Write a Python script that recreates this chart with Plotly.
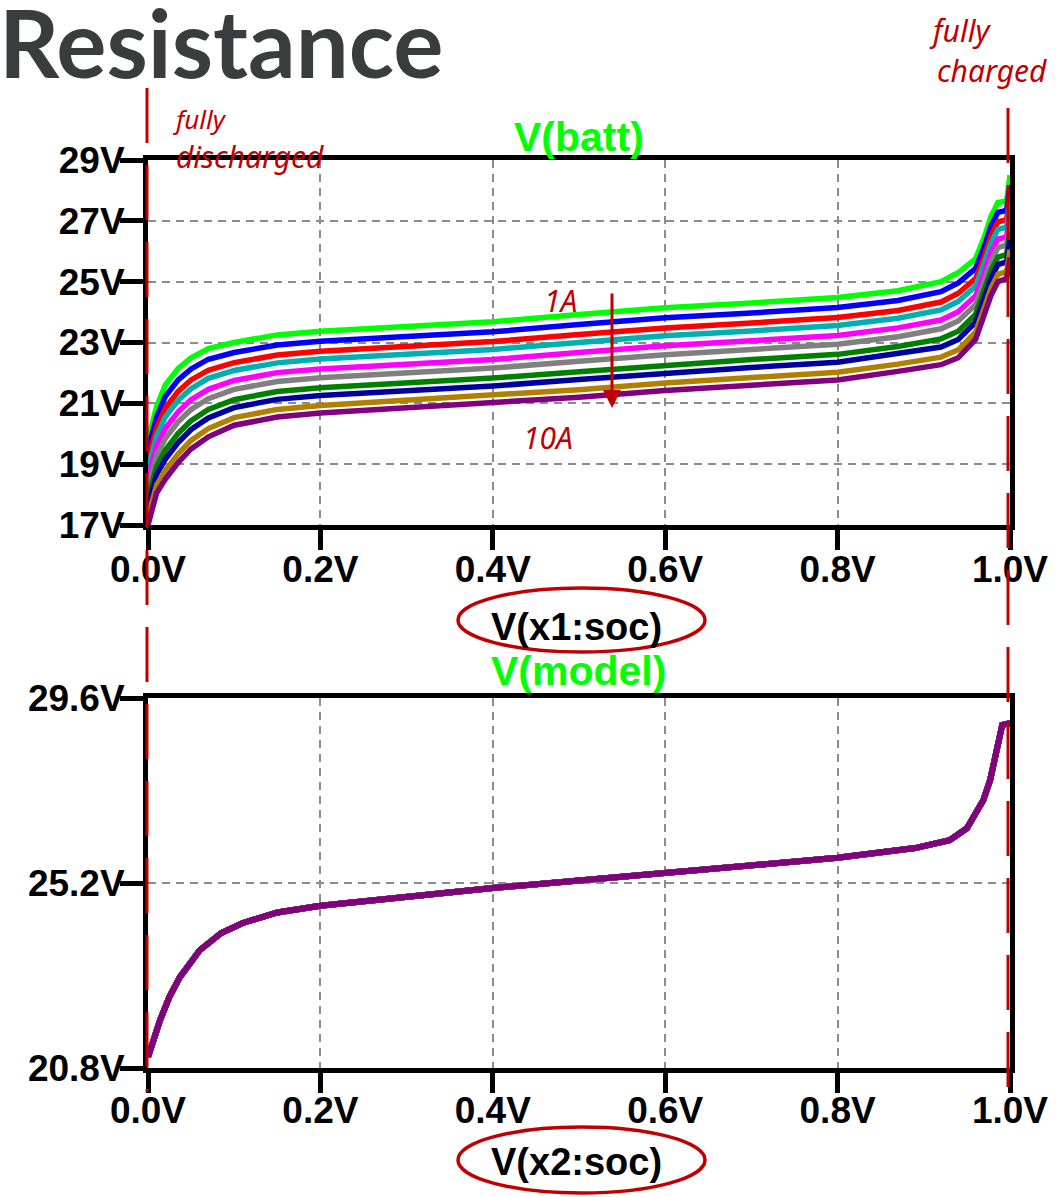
import plotly.graph_objects as go

# ---- battery terminal voltage vs state of charge, one curve per load step ----
soc = [0, 0.005, 0.01, 0.02, 0.035, 0.05, 0.07, 0.1, 0.15, 0.2, 0.3, 0.4, 0.5,
       0.6, 0.7, 0.8, 0.87, 0.92, 0.94, 0.96, 0.97, 0.978, 0.986, 0.996, 1.0]

batt_1a = [19.8, 20.4, 20.9, 21.6, 22.15, 22.5, 22.8, 23.0, 23.25, 23.37, 23.52, 23.68, 23.92,
           24.14, 24.3, 24.48, 24.7, 25.0, 25.3, 25.75, 26.45, 27.15, 27.6, 27.65, 28.5]
batt_2a = [19.46, 20.06, 20.55, 21.22, 21.77, 22.13, 22.45, 22.67, 22.92, 23.04, 23.19, 23.35, 23.59,
           23.81, 23.97, 24.15, 24.38, 24.67, 24.96, 25.43, 26.14, 26.83, 27.28, 27.34, 28.17]
batt_3a = [19.12, 19.72, 20.2, 20.84, 21.39, 21.77, 22.09, 22.34, 22.59, 22.71, 22.87, 23.03, 23.26,
           23.48, 23.64, 23.82, 24.05, 24.33, 24.62, 25.1, 25.83, 26.52, 26.97, 27.03, 27.84]
batt_4a = [18.85, 19.45, 19.93, 20.55, 21.1, 21.48, 21.82, 22.08, 22.33, 22.46, 22.61, 22.77, 23.0,
           23.22, 23.38, 23.56, 23.8, 24.07, 24.35, 24.85, 25.59, 26.27, 26.72, 26.79, 27.58]
batt_5a = [18.51, 19.11, 19.59, 20.17, 20.72, 21.12, 21.46, 21.75, 22.01, 22.13, 22.28, 22.44, 22.67,
           22.89, 23.06, 23.23, 23.48, 23.74, 24.01, 24.53, 25.27, 25.95, 26.4, 26.47, 27.26]
batt_6a = [18.21, 18.81, 19.28, 19.84, 20.39, 20.8, 21.15, 21.46, 21.72, 21.84, 22.0, 22.16, 22.38,
           22.6, 22.77, 22.94, 23.19, 23.45, 23.71, 24.24, 25.0, 25.67, 26.12, 26.2, 26.97]
batt_7a = [17.87, 18.47, 18.93, 19.46, 20.01, 20.43, 20.8, 21.12, 21.39, 21.51, 21.67, 21.83, 22.04,
           22.26, 22.44, 22.61, 22.87, 23.12, 23.37, 23.92, 24.69, 25.36, 25.81, 25.89, 26.64]
batt_8a = [17.6, 18.2, 18.66, 19.16, 19.71, 20.14, 20.52, 20.86, 21.13, 21.26, 21.41, 21.57, 21.78,
           22.0, 22.18, 22.35, 22.62, 22.85, 23.1, 23.67, 24.45, 25.11, 25.56, 25.65, 26.38]
batt_9a = [17.26, 17.86, 18.31, 18.79, 19.34, 19.78, 20.17, 20.53, 20.8, 20.93, 21.09, 21.25, 21.45,
           21.67, 21.85, 22.02, 22.29, 22.52, 22.76, 23.34, 24.13, 24.79, 25.24, 25.33, 26.05]
batt_10a = [17.0, 17.6, 18.05, 18.5, 19.05, 19.5, 19.9, 20.28, 20.55, 20.68, 20.84, 21.0, 21.2,
            21.42, 21.6, 21.77, 22.05, 22.27, 22.5, 23.1, 23.9, 24.55, 25.0, 25.1, 25.8]

# ---- resistance-compensated model voltage (identical for every load step) ----
soc_model = [0, 0.005, 0.014, 0.025, 0.037, 0.06, 0.085, 0.11, 0.15, 0.2, 0.3, 0.35, 0.4,
             0.5, 0.6, 0.7, 0.8, 0.89, 0.93, 0.95, 0.969, 0.977, 0.985, 0.991, 1.0]
v_model = [21.06, 21.4, 21.94, 22.5, 22.96, 23.6, 24.01, 24.25, 24.5, 24.66, 24.88, 24.98, 25.08,
           25.26, 25.44, 25.62, 25.8, 26.03, 26.22, 26.5, 27.17, 27.65, 28.43, 28.96, 29.0]

step_labels = ["1A", "2A", "3A", "4A", "5A", "6A", "7A", "8A", "9A", "10A"]
batt_curves = [batt_1a, batt_2a, batt_3a, batt_4a, batt_5a,
               batt_6a, batt_7a, batt_8a, batt_9a, batt_10a]

# tick positions
soc_ticks = [0.0, 0.2, 0.4, 0.6, 0.8, 1.0]
batt_ticks = [17, 19, 21, 23, 25, 27, 29]
model_ticks = [20.8, 25.2, 29.6]

trace_colors = ["#00ff00", "#0000ff", "#ff0000", "#00b0b0", "#ff00ff",
                "#808080", "#008000", "#0000a0", "#b08000", "#800080"]

W, H = 1058, 1197
INK = "#c00000"


def px(x):
    return x / W


def py(y):
    return 1 - y / H


def volt_labels(vals, fmt):
    return [format(v, fmt) + "V" for v in vals]


fig = go.Figure()

for lbl, vals, col in zip(step_labels, batt_curves, trace_colors):
    fig.add_trace(go.Scatter(x=soc, y=vals, mode="lines", name=f"V(batt) {lbl}",
                             line=dict(color=col, width=5.5), xaxis="x", yaxis="y",
                             showlegend=False))

for lbl, col in zip(step_labels, trace_colors):
    fig.add_trace(go.Scatter(x=soc_model, y=v_model, mode="lines", name=f"V(model) {lbl}",
                             line=dict(color=col, width=6), xaxis="x2", yaxis="y2",
                             showlegend=False))

tick_font = dict(family="Liberation Sans", size=37, color="black", weight="bold")
axis_common = dict(
    showline=True, linecolor="black", linewidth=5, mirror=True,
    ticks="outside", tickcolor="black", tickwidth=5,
    showgrid=True, gridcolor="#8c8c8c", gridwidth=2, griddash="8px,6px",
    zeroline=False, layer="below traces", tickfont=tick_font,
    fixedrange=True, automargin=False, tickmode="array",
)

fig.update_layout(
    width=W, height=H, template="none",
    margin=dict(l=0, r=0, t=0, b=0),
    paper_bgcolor="white", plot_bgcolor="white",
    showlegend=False,
    xaxis=dict(axis_common, domain=[px(148), px(1010)], range=[0, 1], anchor="y",
               tickvals=soc_ticks, ticktext=volt_labels(soc_ticks, ".1f"),
               ticklen=20, ticklabelstandoff=-12),
    yaxis=dict(axis_common, domain=[py(525), py(160)], range=[17, 29], anchor="x",
               tickvals=batt_ticks, ticktext=volt_labels(batt_ticks, "d"),
               ticklen=23, ticklabelstandoff=-12),
    xaxis2=dict(axis_common, domain=[px(148), px(1010)], range=[0, 1], anchor="y2",
                tickvals=soc_ticks, ticktext=volt_labels(soc_ticks, ".1f"),
                ticklen=20, ticklabelstandoff=-14),
    yaxis2=dict(axis_common, domain=[py(1068), py(698)], range=[20.8, 29.6], anchor="x2",
                tickvals=model_ticks, ticktext=volt_labels(model_ticks, ".1f"),
                ticklen=23, ticklabelstandoff=-12),
)

label_font = dict(family="Liberation Sans", size=38, color="black", weight="bold")
green_font = dict(family="Liberation Sans", size=41, color="#00ff00", weight="bold")
hand_font = dict(family="Noto Sans", size=30, color=INK, style="italic")
hand_small = dict(family="Noto Sans", size=26, color=INK, style="italic")

annotations = [
    dict(text="Resistance", x=px(-3), y=py(41), xanchor="left",
         font=dict(family="Lato", size=94, color="#3b3c3e", weight="bold")),
    dict(text="V(batt)", x=px(579), y=py(137), font=green_font),
    dict(text="V(x1:soc)", x=px(576), y=py(627), font=label_font),
    dict(text="V(model)", x=px(578), y=py(671), font=green_font),
    dict(text="V(x2:soc)", x=px(576), y=py(1162), font=label_font),
    # handwritten notes
    dict(text="fully", x=px(200), y=py(119), font=hand_small),
    dict(text="discharged", x=px(250), y=py(156), font=hand_font),
    dict(text="fully", x=px(960), y=py(30), font=hand_font),
    dict(text="charged", x=px(992), y=py(70), font=hand_font),
    dict(text="1A", x=px(560), y=py(300), font=hand_font),
    dict(text="10A", x=px(548), y=py(437), font=hand_font),
    dict(text="", x=px(612), y=py(408), ax=0, ay=-116, showarrow=True,
         arrowhead=2, arrowsize=1.2, arrowwidth=3, arrowcolor=INK),
]
for a in annotations:
    a.setdefault("xref", "paper")
    a.setdefault("yref", "paper")
    a.setdefault("xanchor", "center")
    a.setdefault("yanchor", "middle")
    a.setdefault("showarrow", False)
fig.update_layout(annotations=annotations)

hand_dash = "55px,22px"
shapes = [
    # boundary markers at empty / full charge
    dict(type="line", x0=px(147), x1=px(147), y0=py(88), y1=py(1092),
         line=dict(color=INK, width=3, dash=hand_dash)),
    dict(type="line", x0=px(1008), x1=px(1008), y0=py(108), y1=py(1092),
         line=dict(color=INK, width=3, dash=hand_dash)),
    # circled x-axis quantities
    dict(type="circle", x0=px(458), x1=px(705), y0=py(652), y1=py(588),
         line=dict(color=INK, width=3.5)),
    dict(type="circle", x0=px(458), x1=px(705), y0=py(1193), y1=py(1127),
         line=dict(color=INK, width=3.5)),
]
for s in shapes:
    s["xref"] = "paper"
    s["yref"] = "paper"
fig.update_layout(shapes=shapes)

fig.write_html("out.html")
